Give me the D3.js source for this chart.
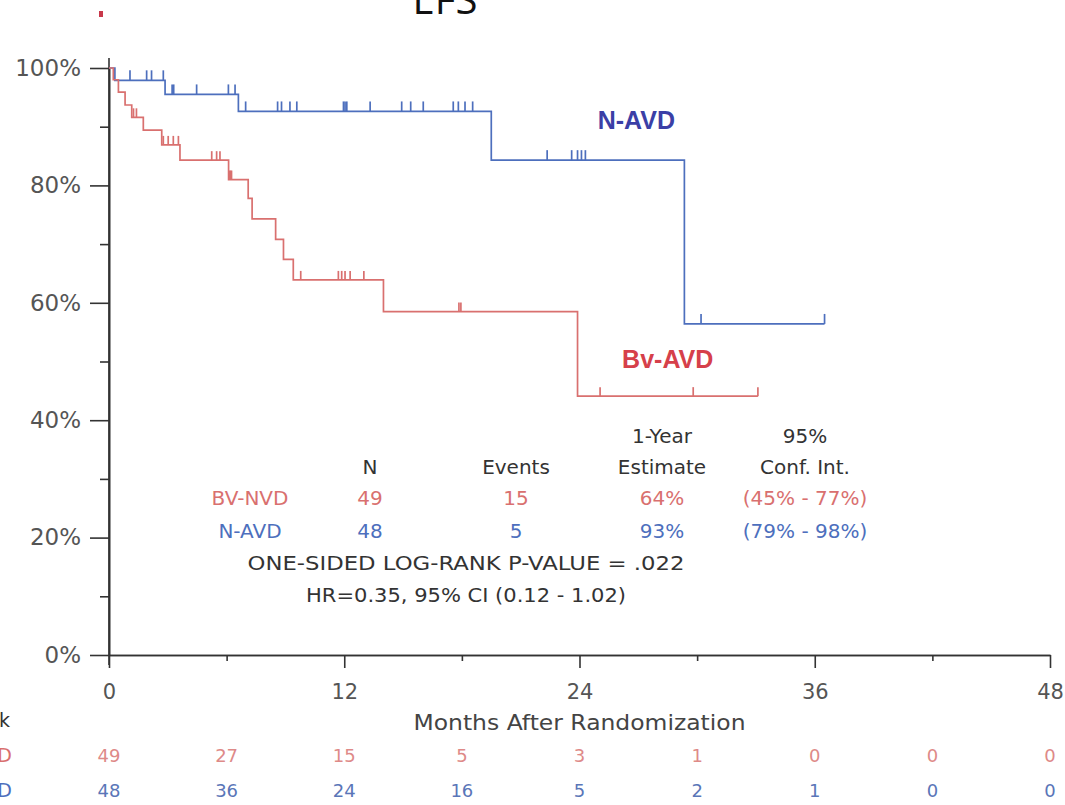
<!DOCTYPE html>
<html>
<head>
<meta charset="utf-8">
<script src="https://cdn.jsdelivr.net/npm/d3@7"></script>
<style>
  body { margin: 0; background: #fff; }
  text { font-family: "DejaVu Sans", sans-serif; }
</style>
</head>
<body>
<script>
// Kaplan-Meier steps (months, % event free)
var bvTimes = [0, 0.22, 0.48, 0.82, 1.16, 1.75, 2.69, 3.62, 6.1, 7.1, 7.3, 8.5, 8.9, 9.4, 14.0, 23.9];
var bvSurv = [100, 98.0, 95.9, 93.7, 91.6, 89.4, 86.9, 84.3, 81.0, 77.8, 74.3, 70.8, 67.4, 63.9, 58.5, 44.1];
var bvEnd = 33.1;
var bvCensor = [1.25, 1.4, 2.77, 3.02, 3.28, 3.54, 5.24, 5.49, 5.66, 6.15, 6.2, 6.25, 9.78, 11.7, 11.87, 12.04, 12.3, 13.0, 17.85, 17.95, 25.05, 29.8, 33.1];

var naTimes = [0, 0.3, 2.86, 6.6, 19.5, 29.35];
var naSurv = [100, 97.9, 95.5, 92.6, 84.3, 56.4];
var naEnd = 36.5;
var naCensor = [1.07, 1.92, 2.17, 2.77, 3.22, 3.3, 4.47, 6.09, 6.43, 6.97, 8.6, 8.8, 9.23, 9.58, 11.96, 12.04, 12.13, 13.32, 14.93, 15.39, 16.03, 17.56, 17.82, 18.16, 18.55, 22.35, 23.6, 23.9, 24.1, 24.3, 30.2, 36.5];

// number at risk
var riskMonths = [0, 6, 12, 18, 24, 30, 36, 42, 48];
var bvRisk = [49, 27, 15, 5, 3, 1, 0, 0, 0];
var naRisk = [48, 36, 24, 16, 5, 2, 1, 0, 0];

// summary table
var tableHead1 = ["", "", "", "1-Year", "95%"];
var tableHead2 = ["", "N", "Events", "Estimate", "Conf. Int."];
var bvRow = ["BV-NVD", "49", "15", "64%", "(45% - 77%)"];
var naRow = ["N-AVD", "48", "5", "93%", "(79% - 98%)"];
var statLines = ["ONE-SIDED LOG-RANK P-VALUE = .022", "HR=0.35, 95% CI (0.12 - 1.02)"];

var width = 1065, height = 805;
var red = "#d9706f", blue = "#4d6fbd";

var svg = d3.select("body").append("svg")
    .attr("width", width)
    .attr("height", height);

var x = d3.scaleLinear().domain([0, 48]).range([109, 1050]);
var y = d3.scaleLinear().domain([0, 100]).range([655, 68]);

//title, mostly cropped off the top
svg.append("text")
    .attr("x", 445).attr("y", 14)
    .attr("text-anchor", "middle")
    .style("font-family", "'Open Sans', sans-serif")
    .style("font-size", "40px")
    .attr("fill", "#111")
    .text("EFS");
svg.append("rect")
    .attr("x", 99).attr("y", 11).attr("width", 4).attr("height", 6)
    .attr("fill", "#c8384a");

//axes
var axisColor = "#333";
function styleAxis(g){
    g.selectAll("path, line").attr("stroke", axisColor).attr("stroke-width", 1.6);
    g.selectAll("text").attr("fill", "#555").style("font-size", "21px")
        .style("font-family", "'DejaVu Sans', sans-serif");
}

svg.append("g")
    .attr("transform", "translate(0," + y(0) + ")")
    .call(d3.axisBottom(x).tickValues([6, 18, 30, 42]).tickSize(6).tickSizeOuter(0).tickFormat(""))
    .call(styleAxis);
svg.append("g")
    .attr("transform", "translate(0," + y(0) + ")")
    .call(d3.axisBottom(x).tickValues([0, 12, 24, 36, 48]).tickSize(13).tickSizeOuter(0).tickPadding(16))
    .call(styleAxis);

svg.append("g")
    .attr("transform", "translate(" + x(0) + ",0)")
    .call(d3.axisLeft(y).tickValues([10, 30, 50, 70, 90]).tickSize(9).tickSizeOuter(0).tickFormat(""))
    .call(styleAxis);
svg.append("g")
    .attr("class", "yMajor")
    .attr("transform", "translate(" + x(0) + ",0)")
    .call(d3.axisLeft(y).tickValues([0, 20, 40, 60, 80, 100]).tickSize(19).tickSizeOuter(0).tickPadding(9)
        .tickFormat(function(d){ return d + "%"; }))
    .call(styleAxis);
svg.selectAll(".yMajor text").style("font-size", "23px");

//extend y axis line a bit past the ends
svg.append("line")
    .attr("x1", x(0)).attr("x2", x(0))
    .attr("y1", y(100) - 10).attr("y2", y(0) + 10)
    .attr("stroke", axisColor).attr("stroke-width", 1.6);

svg.append("text")
    .attr("x", x(24)).attr("y", 730)
    .attr("text-anchor", "middle")
    .attr("fill", "#444").style("font-size", "22px")
    .attr("textLength", 332).attr("lengthAdjust", "spacingAndGlyphs")
    .text("Months After Randomization");

//step curves
function stepPoints(times, surv, end){
    var pts = times.map(function(t, i){ return [t, surv[i]]; });
    pts.push([end, surv[surv.length - 1]]);
    return pts;
}
function survAt(times, surv, t){
    var i = d3.bisectRight(times, t) - 1;
    return surv[Math.max(i, 0)];
}
var line = d3.line()
    .x(function(d){ return x(d[0]); })
    .y(function(d){ return y(d[1]); })
    .curve(d3.curveStepAfter);

function drawCurve(times, surv, end, censor, color, tick){
    svg.append("path")
        .datum(stepPoints(times, surv, end))
        .attr("fill", "none")
        .attr("stroke", color)
        .attr("stroke-width", 1.7)
        .attr("d", line);
    svg.selectAll(null)
        .data(censor)
        .enter().append("line")
        .attr("x1", function(d){ return x(d); })
        .attr("x2", function(d){ return x(d); })
        .attr("y1", function(d){ return y(survAt(times, surv, d)); })
        .attr("y2", function(d){ return y(survAt(times, surv, d)) - tick; })
        .attr("stroke", color)
        .attr("stroke-width", 1.7);
}
drawCurve(naTimes, naSurv, naEnd, naCensor, blue, 10);
drawCurve(bvTimes, bvSurv, bvEnd, bvCensor, red, 9);

//curve labels
svg.append("text")
    .attr("x", x(26.9)).attr("y", 129)
    .attr("text-anchor", "middle")
    .style("font-family", "'Liberation Sans', Arial, sans-serif")
    .style("font-size", "25px").style("font-weight", "bold")
    .attr("fill", "#3b3fa6")
    .text("N-AVD");
svg.append("text")
    .attr("x", x(28.5)).attr("y", 368)
    .attr("text-anchor", "middle")
    .style("font-family", "'Liberation Sans', Arial, sans-serif")
    .style("font-size", "25px").style("font-weight", "bold")
    .attr("fill", "#d6404a")
    .text("Bv-AVD");

//summary table
var colX = [250, 370, 516, 662, 805];
function tableRow(cells, yPos, color){
    svg.selectAll(null)
        .data(cells)
        .enter().append("text")
        .attr("x", function(d, i){ return colX[i]; })
        .attr("y", yPos)
        .attr("text-anchor", "middle")
        .attr("fill", color)
        .style("font-size", "20px")
        .text(function(d){ return d; });
}
tableRow(tableHead1, 443, "#333");
tableRow(tableHead2, 474, "#333");
tableRow(bvRow, 505, red);
tableRow(naRow, 538, blue);
var statWidths = [437, 320];
svg.selectAll(null)
    .data(statLines)
    .enter().append("text")
    .attr("x", 466)
    .attr("y", function(d, i){ return 570 + i * 32; })
    .attr("text-anchor", "middle")
    .attr("fill", "#333")
    .style("font-size", "20px")
    .attr("textLength", function(d, i){ return statWidths[i]; })
    .attr("lengthAdjust", "spacingAndGlyphs")
    .text(function(d){ return d; });

//numbers at risk
svg.append("text").attr("x", 10).attr("y", 727).attr("text-anchor", "end")
    .attr("fill", "#333").style("font-size", "19px").text("At Risk");
svg.append("text").attr("x", 12).attr("y", 762).attr("text-anchor", "end")
    .attr("fill", red).style("font-size", "19px").text("Bv-AVD");
svg.append("text").attr("x", 12).attr("y", 797).attr("text-anchor", "end")
    .attr("fill", blue).style("font-size", "19px").text("N-AVD");

function riskRow(vals, yPos, color){
    svg.selectAll(null)
        .data(vals)
        .enter().append("text")
        .attr("x", function(d, i){ return x(riskMonths[i]); })
        .attr("y", yPos)
        .attr("text-anchor", "middle")
        .attr("fill", color)
        .style("font-size", "18px")
        .text(function(d){ return d; });
}
riskRow(bvRisk, 762, "#de8a88");
riskRow(naRisk, 797, "#5a76b8");
</script>
</body>
</html>
